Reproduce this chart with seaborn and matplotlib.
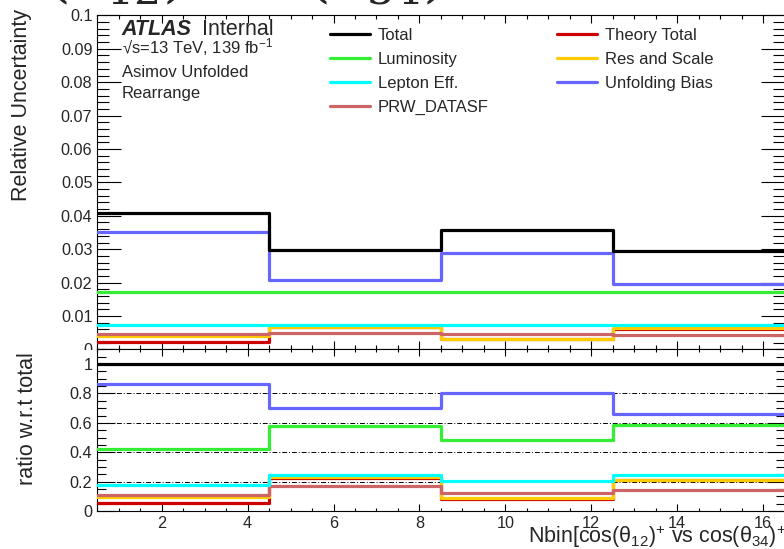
import numpy as np
import seaborn as sns
import matplotlib.pyplot as plt
from matplotlib.ticker import MultipleLocator, FuncFormatter
from matplotlib.patches import Rectangle

# Nbin axis bin edges
edges = [0.5, 4.5, 8.5, 12.5, 16.5]

# relative uncertainty per bin
total = [0.0408, 0.0298, 0.0358, 0.0296]
luminosity = [0.0173, 0.0173, 0.0173, 0.0173]
lepton_eff = [0.0073, 0.0073, 0.0073, 0.0073]
prw_datasf = [0.0045, 0.0050, 0.0045, 0.0042]
theory_total = [0.0022, 0.0067, 0.0030, 0.0062]
res_scale = [0.0039, 0.0068, 0.0031, 0.0063]
unfolding_bias = [0.0352, 0.0208, 0.0288, 0.0195]

sns.set_style("ticks")
plt.rcParams['font.family'] = ['Liberation Sans', 'DejaVu Sans']
plt.rcParams['mathtext.fontset'] = 'custom'
plt.rcParams['mathtext.rm'] = 'Liberation Sans'
plt.rcParams['mathtext.it'] = 'Liberation Sans:italic'
plt.rcParams['mathtext.bf'] = 'Liberation Sans:bold'

# drawing order (legend order is set separately)
series = [
    ('Theory Total', theory_total, '#cc0000'),
    ('Res and Scale', res_scale, '#ffcc00'),
    ('PRW_DATASF', prw_datasf, '#cc6666'),
    ('Lepton Eff.', lepton_eff, '#00ffff'),
    ('Luminosity', luminosity, '#33ee33'),
    ('Unfolding Bias', unfolding_bias, '#6666ff'),
    ('Total', total, 'black'),
]
legend_order = ['Total', 'Luminosity', 'Lepton Eff.', 'PRW_DATASF',
                'Theory Total', 'Res and Scale', 'Unfolding Bias']

W, H = 784, 549
fig = plt.figure(figsize=(W / 100, H / 100), dpi=100)
left, right = 97.3 / W, 784.5 / W
ax1 = fig.add_axes([left, 1 - 349.4 / H, right - left, (349.4 - 15.4) / H])
ax2 = fig.add_axes([left, 1 - 511 / H, right - left, (511 - 349.4) / H])
ax1.set_zorder(0)
ax2.set_zorder(2)
# lower pad hides the bottom of the upper pad
fig.add_artist(Rectangle((0, 0), 1, 1 - 349.6 / H, transform=fig.transFigure,
                         facecolor='white', edgecolor='none', zorder=1))

tot = np.array(total)
for name, vals, col in series:
    y = list(vals) + [vals[-1]]
    sns.lineplot(x=edges, y=y, drawstyle='steps-post', color=col, lw=2.3,
                 label=name, ax=ax1, legend=False, zorder=3)
    r = np.array(vals) / tot
    sns.lineplot(x=edges, y=list(r) + [r[-1]], drawstyle='steps-post', color=col,
                 lw=2.3, ax=ax2, legend=False, zorder=3)

for v in [0.2, 0.4, 0.6, 0.8]:
    ax2.axhline(v, color='black', lw=0.7, ls=(0, (5, 2, 1, 2)), zorder=1)

fmt = FuncFormatter(lambda v, p: '%g' % round(v, 4))
for ax in (ax1, ax2):
    ax.set_xlim(0.5, 16.5)
    ax.xaxis.set_major_locator(MultipleLocator(2))
    ax.xaxis.set_minor_locator(MultipleLocator(0.5))
    ax.tick_params(which='both', direction='in', top=True, right=True,
                   labelsize=11.7, color='black', width=0.8, pad=3.5)
    ax.xaxis.set_major_formatter(fmt)
    ax.yaxis.set_major_formatter(fmt)
    for s in ax.spines.values():
        s.set_linewidth(0.8)
        s.set_color('black')

ax1.set_ylim(0, 0.1)
ax1.yaxis.set_major_locator(MultipleLocator(0.01))
ax1.yaxis.set_minor_locator(MultipleLocator(0.002))
ax1.tick_params(axis='y', which='major', length=17)
ax1.tick_params(axis='y', which='minor', length=8.5)
ax1.tick_params(axis='x', which='major', length=6)
ax1.tick_params(axis='x', which='minor', length=3)
ax1.tick_params(labelbottom=False)

ax2.set_ylim(0, 1.1)
ax2.yaxis.set_major_locator(MultipleLocator(0.2))
ax2.yaxis.set_minor_locator(MultipleLocator(0.05))
ax2.tick_params(axis='y', which='major', length=13)
ax2.tick_params(axis='y', which='minor', length=6.5)
ax2.tick_params(axis='x', which='major', length=5)
ax2.tick_params(axis='x', which='minor', length=2.5)

ax1.set_ylabel('Relative Uncertainty', fontsize=15.5)
ax1.yaxis.set_label_coords(-0.0955, 0.732)
ax2.set_ylabel('ratio w.r.t total', fontsize=15.5)
ax2.yaxis.set_label_coords(-0.0866, 0.575)
ax2.set_xlabel(r'Nbin[cos(θ$_{12}$)$^{+}$ vs cos(θ$_{34}$)$^{+}$]', fontsize=15.5,
               ha='left', va='baseline')
ax2.xaxis.set_label_coords(0.627, -0.198)

handles, labs = ax1.get_legend_handles_labels()
hmap = dict(zip(labs, handles))
ax1.legend([hmap[n] for n in legend_order], legend_order, ncol=2, frameon=False,
           loc='upper left', bbox_to_anchor=((330 - 97.3) / 687.2, 0.963),
           borderpad=0, borderaxespad=0, fontsize=12, handlelength=2.4,
           handletextpad=0.48, columnspacing=4.1, labelspacing=0.54)

# ATLAS label block
fig.text(121.7 / W, 1 - 35 / H, 'ATLAS', fontsize=15.5, fontweight='bold',
         fontstyle='italic', va='baseline')
fig.text(201.7 / W, 1 - 35 / H, 'Internal', fontsize=15.5, va='baseline')
fig.text(121.7 / W, 1 - 53.5 / H, r'√s=13 TeV, 139 fb$^{-1}$', fontsize=12, va='baseline')
fig.text(121.7 / W, 1 - 77.3 / H, 'Asimov Unfolded', fontsize=12, va='baseline')
fig.text(121.7 / W, 1 - 97.7 / H, 'Rearrange', fontsize=12, va='baseline')

# title of the page, mostly cut off above the chart
fig.text(115 / W, 1 + 5 / H, r'$(\theta_{12})$', fontsize=44, ha='center',
         va='baseline', math_fontfamily='dejavuserif')
fig.text(375 / W, 1 + 5 / H, r'$(\theta_{34})$', fontsize=44, ha='center',
         va='baseline', math_fontfamily='dejavuserif')

fig.savefig('out.png', dpi=100)
